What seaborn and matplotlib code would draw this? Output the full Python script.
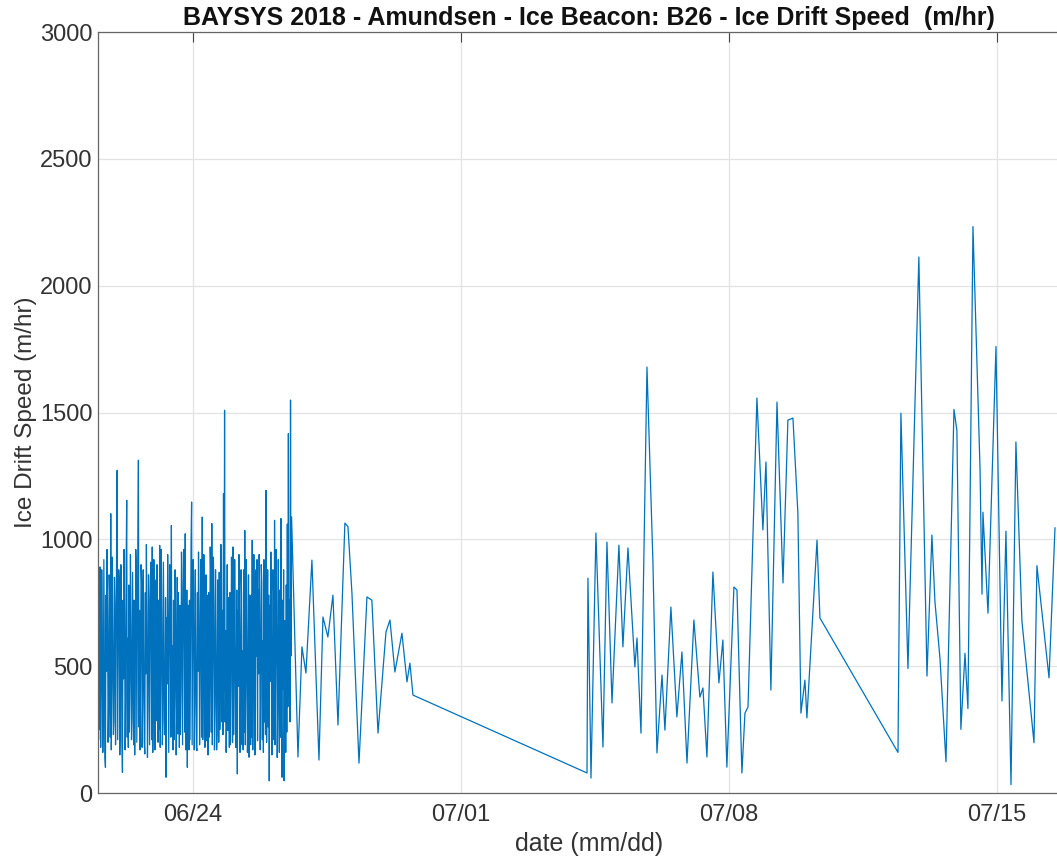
import matplotlib
matplotlib.use('Agg')
import matplotlib.pyplot as plt
import matplotlib.dates as mdates
import seaborn as sns
import pandas as pd

# Dense part of the record (regular 20 min fixes)
DENSE_START = '2018-06-21 12:30'
DENSE_STEP = '20min'
dense_speed = [
    520, 210, 760, 250, 891, 180, 430, 880, 640, 160, 310, 920, 560, 140, 101, 780, 480, 960, 690, 200,
    350, 860, 780, 220, 1101, 170, 420, 930, 620, 230, 280, 850, 740, 190, 510, 980, 1272, 210, 560, 880,
    830, 150, 330, 900, 590, 200, 81, 760, 450, 960, 700, 170, 380, 910, 1154, 220, 610, 180, 820, 240,
    440, 940, 660, 210, 298, 870, 540, 190, 760, 150, 420, 960, 880, 200, 650, 1010, 1312, 260, 720, 170,
    480, 900, 830, 180, 360, 880, 580, 200, 154, 790, 470, 980, 690, 140, 330, 860, 760, 190, 520, 910,
    820, 210, 970, 160, 410, 920, 640, 170, 330, 840, 285, 900, 590, 200, 760, 250, 976, 180, 450, 960,
    680, 190, 290, 910, 540, 230, 240, 770, 62, 690, 430, 940, 710, 160, 500, 900, 820, 220, 1055, 260,
    580, 170, 760, 210, 380, 880, 620, 150, 310, 850, 233, 790, 560, 180, 740, 230, 420, 950, 810, 190,
    560, 960, 880, 240, 1022, 170, 390, 800, 101, 740, 520, 170, 760, 210, 610, 990, 1147, 190, 540, 920,
    780, 170, 350, 880, 600, 180, 167, 790, 480, 950, 700, 190, 410, 920, 830, 220, 1088, 210, 500, 940,
    720, 180, 360, 860, 206, 780, 560, 150, 790, 220, 450, 970, 860, 240, 1062, 190, 520, 930, 740, 170,
    330, 880, 590, 170, 233, 840, 610, 200, 870, 250, 480, 980, 960, 280, 720, 230, 1180, 400, 1509, 280,
    640, 160, 380, 900, 246, 770, 580, 180, 790, 190, 430, 930, 720, 200, 970, 230, 460, 920, 650, 180,
    280, 800, 75, 720, 420, 940, 690, 160, 370, 880, 780, 190, 560, 170, 880, 240, 1035, 190, 420, 920,
    630, 160, 300, 860, 141, 780, 560, 190, 780, 220, 996, 170, 480, 940, 660, 150, 320, 880, 540, 920,
    206, 800, 470, 940, 720, 170, 390, 900, 830, 210, 600, 160, 920, 280, 700, 230, 1193, 200, 480, 880,
    260, 780, 48, 740, 440, 950, 680, 150, 380, 880, 790, 210, 1075, 190, 520, 960, 730, 140, 340, 920,
    610, 160, 800, 220, 1082, 280, 62, 760, 410, 880, 48, 680, 560, 160, 820, 240, 1060, 340, 1417, 380,
    760, 280, 1549, 540, 1088,
]

# Sparser fixes after the dense part (mm-dd HH:MM, 2018)
sparse_times = [
    '06-26 17:50', '06-26 20:20', '06-26 22:50', '06-27 02:35', '06-27 07:00',
    '06-27 09:30', '06-27 12:35', '06-27 15:45', '06-27 18:55', '06-27 23:15',
    '06-28 01:10', '06-28 03:40', '06-28 08:05', '06-28 13:05', '06-28 16:10',
    '06-28 20:00', '06-29 01:00', '06-29 03:30', '06-29 06:35', '06-29 11:00',
    '06-29 14:10', '06-29 16:00', '06-29 17:55',
    '07-04 07:00', '07-04 07:35', '07-04 09:30', '07-04 12:35', '07-04 17:00',
    '07-04 19:30', '07-04 22:40', '07-05 03:00', '07-05 05:30', '07-05 08:40',
    '07-05 13:00', '07-05 14:20', '07-05 16:50', '07-05 20:35', '07-06 00:20',
    '07-06 02:50', '07-06 06:00', '07-06 07:50', '07-06 11:35', '07-06 15:20',
    '07-06 18:30', '07-06 21:40', '07-07 02:00', '07-07 05:45', '07-07 07:40',
    '07-07 10:10', '07-07 13:55', '07-07 17:40', '07-07 20:10', '07-07 22:40',
    '07-08 03:05', '07-08 05:00', '07-08 08:05', '07-08 10:00', '07-08 11:55',
    '07-08 17:30', '07-08 21:15', '07-08 23:10', '07-09 02:15', '07-09 06:05',
    '07-09 09:50', '07-09 12:55', '07-09 16:05', '07-09 19:10', '07-09 21:05',
    '07-09 23:35', '07-10 00:50', '07-10 07:10', '07-10 09:00',
    '07-12 09:55', '07-12 11:45', '07-12 16:10', '07-12 23:00', '07-13 04:05',
    '07-13 07:10', '07-13 09:05', '07-13 12:15', '07-13 16:00', '07-13 21:00',
    '07-13 22:50', '07-14 01:20', '07-14 03:55', '07-14 05:45', '07-14 08:55',
    '07-14 13:20', '07-14 14:35', '07-14 15:10', '07-14 18:20', '07-14 23:20',
    '07-15 03:05', '07-15 05:35', '07-15 08:45', '07-15 11:50', '07-15 15:35',
    '07-15 23:10', '07-16 01:00', '07-16 08:35', '07-16 12:20',
]
sparse_speed = [
    142, 576, 473, 918, 130,
    694, 615, 780, 268, 1064,
    1050, 788, 118, 773, 760,
    236, 635, 682, 477, 630,
    438, 512, 386,
    79, 847, 59, 1025, 181,
    989, 355, 977, 576, 966,
    497, 611, 236, 1679, 906,
    158, 465, 248, 733, 300,
    556, 118, 682, 378, 414,
    142, 871, 434, 603, 102,
    812, 800, 79, 315, 339,
    1557, 1037, 1305, 406, 1541,
    828, 1470, 1478, 1104, 315,
    445, 296, 997, 690,
    160, 1497, 491, 2113, 461,
    1017, 754, 529, 123, 1512,
    1430, 251, 551, 333, 2233,
    1279, 784, 1107, 709, 1760,
    363, 1032, 33, 1384, 679,
    198, 896, 454, 1046,
]

X_START = '2018-06-21 12:30'
X_END = '2018-07-17 04:00'
x_ticks = ['2018-06-24', '2018-07-01', '2018-07-08', '2018-07-15']
y_ticks = [0, 500, 1000, 1500, 2000, 2500, 3000]

dense_times = pd.date_range(DENSE_START, periods=len(dense_speed), freq=DENSE_STEP)
sparse_dt = pd.to_datetime(['2018-' + t for t in sparse_times])
df = pd.DataFrame({
    'time': list(dense_times) + list(sparse_dt),
    'speed': dense_speed + sparse_speed,
})

sns.set_theme(style='white')
plt.rcParams['font.family'] = ['Liberation Sans', 'DejaVu Sans']

fig = plt.figure(figsize=(10.57, 8.63), dpi=100)
# right edge of the box lies just outside the picture, as in the original
ax = fig.add_axes([98 / 1057, 70 / 863, 982 / 1057, 761 / 863])

sns.lineplot(data=df, x='time', y='speed', ax=ax, color='#0072BD',
             linewidth=0.9, estimator=None, sort=False)

ax.set_xlim(pd.Timestamp(X_START), pd.Timestamp(X_END))
ax.set_ylim(0, 3000)
ax.set_xticks(pd.to_datetime(x_ticks))
ax.xaxis.set_major_formatter(mdates.DateFormatter('%m/%d'))
ax.set_yticks(y_ticks)

ax.grid(True, color='#e3e3e3', linewidth=0.9)
ax.tick_params(direction='in', length=7, width=0.8, top=True, right=True,
               labelsize=17, colors='#444444', labelcolor='#333333')
ax.tick_params(axis='y', pad=4)
ax.tick_params(axis='x', pad=8)
for sp in ax.spines.values():
    sp.set_color('#666666')
    sp.set_linewidth(0.9)

ax.set_xlabel('date (mm/dd)', fontsize=18, color='#333333', labelpad=4)
ax.set_ylabel('Ice Drift Speed (m/hr)', fontsize=17.5, color='#333333', labelpad=2)
ax.set_title('BAYSYS 2018 - Amundsen - Ice Beacon: B26 - Ice Drift Speed  (m/hr)',
             fontsize=18, fontweight='bold', color='#111111', pad=5)

fig.savefig('out.png', dpi=100)
